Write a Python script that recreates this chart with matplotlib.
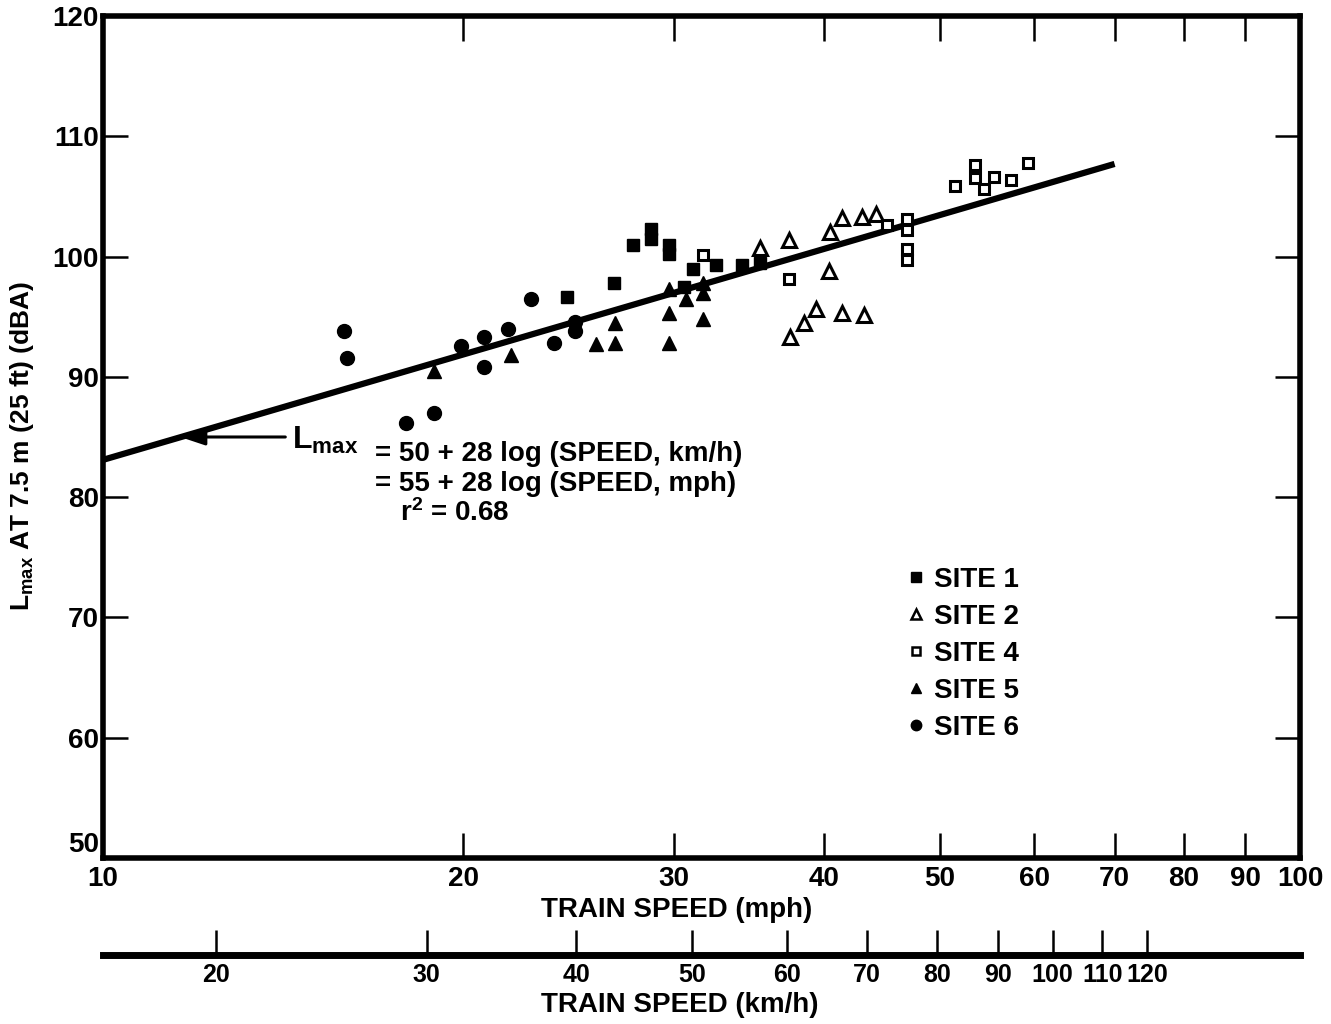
import matplotlib
matplotlib.use('Agg')
import matplotlib.pyplot as plt
from matplotlib.lines import Line2D
from matplotlib.ticker import NullLocator, FixedLocator

plt.rcParams['font.family'] = ['Liberation Sans', 'DejaVu Sans']
plt.rcParams['font.weight'] = 'bold'
plt.rcParams['mathtext.fontset'] = 'custom'
plt.rcParams['mathtext.rm'] = 'Liberation Sans:bold'
plt.rcParams['mathtext.bf'] = 'Liberation Sans:bold'
plt.rcParams['mathtext.default'] = 'rm'

# data (speed in mph, Lmax in dBA)
site1_x = [24.4, 26.7, 27.7, 28.7, 28.7, 29.7, 29.7, 30.6, 31.1, 32.5, 34.2, 35.4]
site1_y = [96.6, 97.8, 101.0, 102.3, 101.5, 101.0, 100.2, 97.5, 99.0, 99.3, 99.3, 99.5]

site2_x = [35.4, 37.4, 40.5, 41.4, 43.1, 44.2, 40.4, 39.4, 41.4, 43.2, 38.5, 37.5]
site2_y = [100.7, 101.4, 102.0, 103.2, 103.3, 103.5, 98.8, 95.6, 95.3, 95.1, 94.5, 93.3]

site4_x = [31.7, 37.4, 45.2, 47.0, 47.0, 47.0, 47.0, 51.5, 53.5, 53.5, 54.5, 55.5, 57.4, 59.3]
site4_y = [100.1, 98.1, 102.6, 103.1, 102.2, 100.6, 99.7, 105.9, 107.6, 106.5, 105.6, 106.6, 106.4, 107.8]

site5_x = [18.9, 21.9, 25.8, 26.8, 26.8, 29.7, 30.7, 31.7, 31.7, 29.7, 31.7, 29.7]
site5_y = [90.5, 91.8, 92.7, 92.8, 94.5, 97.3, 96.5, 97.8, 97.0, 95.3, 94.8, 92.8]

site6_x = [15.9, 16.0, 17.9, 18.9, 19.9, 20.8, 20.8, 21.8, 22.8, 23.8, 24.8, 24.8]
site6_y = [93.8, 91.6, 86.2, 87.0, 92.6, 93.3, 90.8, 94.0, 96.5, 92.8, 94.6, 93.8]

fit_x = [10, 70]
fit_y = [83.1, 107.7]

mph_ticks = [10, 20, 30, 40, 50, 60, 70, 80, 90, 100]
kmh_ticks = [20, 30, 40, 50, 60, 70, 80, 90, 100, 110, 120]
db_ticks = [50, 60, 70, 80, 90, 100, 110, 120]

fig = plt.figure(figsize=(13.31, 10.24), dpi=100)
ax = fig.add_axes([0.0774, 0.1621, 0.8993, 0.8223])

ax.plot(fit_x, fit_y, color='black', lw=4.5, solid_capstyle='butt', zorder=2)

ax.plot(site1_x, site1_y, 's', ms=8.5, mfc='black', mec='black', mew=1, ls='none', zorder=3)
ax.plot(site2_x, site2_y, '^', ms=9.5, mfc='white', mec='black', mew=2.2, ls='none', zorder=3)
ax.plot(site4_x, site4_y, 's', ms=7.5, mfc='white', mec='black', mew=2.2, ls='none', zorder=3)
ax.plot(site5_x, site5_y, '^', ms=10, mfc='black', mec='black', mew=1, ls='none', zorder=3)
ax.plot(site6_x, site6_y, 'o', ms=10, mfc='black', mec='black', mew=1, ls='none', zorder=3)

ax.set_xscale('log')
ax.set_xlim(10, 100)
ax.set_ylim(50, 120)
ax.xaxis.set_major_locator(FixedLocator(mph_ticks))
ax.xaxis.set_minor_locator(NullLocator())
ax.set_xticklabels([str(t) for t in mph_ticks])
ax.set_yticks(db_ticks)
ax.set_yticklabels([str(t) for t in db_ticks])
# lowest y label sits above its tick, as in the original
ax.get_yticklabels()[0].set_va('bottom')

for s in ax.spines.values():
    s.set_linewidth(4)
ax.tick_params(axis='both', which='major', direction='in', length=18, width=1.8,
               labelsize=20, top=True, right=True, pad=3)
ax.tick_params(axis='x', pad=6)

ax.set_xlabel('TRAIN SPEED (mph)', fontsize=20, fontweight='bold')
ax.xaxis.set_label_coords(0.4796, -0.046)
ax.text(-0.068, 0.49, r'L$_{\rm max}$ AT 7.5 m (25 ft) (dBA)', rotation=90,
        ha='center', va='center', fontsize=19, transform=ax.transAxes)

# km/h scale below
sec = ax.secondary_xaxis(-0.1152, functions=(lambda v: v * 1.609344, lambda v: v / 1.609344))
sec.spines['bottom'].set_linewidth(5)
sec.set_xticks(kmh_ticks)
sec.set_xticklabels([str(t) for t in kmh_ticks])
sec.xaxis.set_minor_locator(NullLocator())
sec.tick_params(axis='x', which='major', direction='in', length=18, width=1.8,
                labelsize=18, pad=6)
ax.text(0.482, -0.1746, 'TRAIN SPEED (km/h)', ha='center', va='center',
        fontsize=20, transform=ax.transAxes)

# regression annotation
ax.annotate('', xy=(11.6, 85.0), xytext=(14.2, 85.0),
            arrowprops=dict(arrowstyle='-|>,head_length=0.75,head_width=0.25',
                            mutation_scale=20, color='black', lw=2.2,
                            shrinkA=0, shrinkB=0))
ax.text(0.158, 0.486, r'L$_{\rm max}$', fontsize=23, ha='left', va='baseline',
        transform=ax.transAxes)
ax.text(0.227, 0.471, '= 50 + 28 log (SPEED, km/h)', fontsize=20, ha='left',
        va='baseline', transform=ax.transAxes)
ax.text(0.227, 0.436, '= 55 + 28 log (SPEED, mph)', fontsize=20, ha='left',
        va='baseline', transform=ax.transAxes)
ax.text(0.248, 0.400, r'r$^{2}$ = 0.68', fontsize=20, ha='left',
        va='baseline', transform=ax.transAxes)

handles = [
    Line2D([], [], marker='s', ls='none', ms=6.5, mfc='black', mec='black'),
    Line2D([], [], marker='^', ls='none', ms=7.5, mfc='white', mec='black', mew=1.8),
    Line2D([], [], marker='s', ls='none', ms=6, mfc='white', mec='black', mew=1.8),
    Line2D([], [], marker='^', ls='none', ms=7.5, mfc='black', mec='black'),
    Line2D([], [], marker='o', ls='none', ms=7.5, mfc='black', mec='black'),
]
labels = ['SITE 1', 'SITE 2', 'SITE 4', 'SITE 5', 'SITE 6']
ax.legend(handles, labels, loc='upper left', bbox_to_anchor=(0.672, 0.346),
          frameon=False, fontsize=20, handlelength=0.6, handletextpad=0.35,
          labelspacing=0.4, borderpad=0, borderaxespad=0)

fig.savefig('out.png', dpi=100)
